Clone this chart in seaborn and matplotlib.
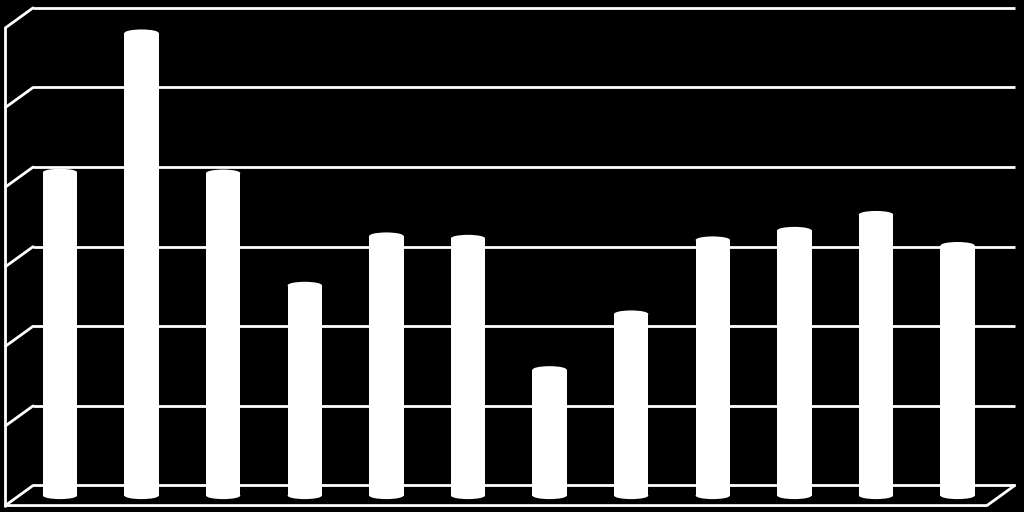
import matplotlib
matplotlib.use('Agg')
import matplotlib.pyplot as plt
from matplotlib.patches import Ellipse
import seaborn as sns

# data (gridline step = 10)
categories = ['1', '2', '3', '4', '5', '6', '7', '8', '9', '10', '11', '12']
values = [40.6, 58.1, 40.5, 26.4, 32.6, 32.3, 15.8, 22.8, 32.1, 33.3, 35.3, 31.4]
gridlines = [0, 10, 20, 30, 40, 50, 60]

sns.set_style('dark')
fig = plt.figure(figsize=(10.24, 5.12), dpi=100, facecolor='black')
ax = fig.add_axes([0, 0, 1, 1])
ax.set_facecolor('black')

sns.barplot(x=categories, y=values, color='white', saturation=1, width=0.42,
            ax=ax, zorder=3, linewidth=0)

# pseudo-3D frame: back wall, left wall, floor
depth_x = 0.34
depth_y = 1.26
x_back_left = -0.33
x_back_right = 11.70
x_front_left = x_back_left - depth_x
x_front_right = x_back_right - depth_x

for g in gridlines:
    ax.plot([x_back_left, x_back_right], [g + depth_y, g + depth_y], color='white', lw=2, zorder=1,
            solid_capstyle='butt')
    ax.plot([x_front_left, x_back_left], [g - depth_y, g + depth_y], color='white', lw=2, zorder=1)

ax.plot([x_front_left, x_front_left], [gridlines[0] - depth_y, gridlines[-1] - depth_y],
        color='white', lw=2, zorder=1)
ax.plot([x_front_left, x_front_right, x_back_right],
        [gridlines[0] - depth_y, gridlines[0] - depth_y, gridlines[0] + depth_y],
        color='white', lw=2, zorder=4)

# cylinder caps
cap_h = 0.9
for p in list(ax.patches):
    cx = p.get_x() + p.get_width() / 2
    ax.add_patch(Ellipse((cx, p.get_height()), p.get_width(), cap_h, facecolor='white',
                         edgecolor='none', zorder=3))
    ax.add_patch(Ellipse((cx, 0), p.get_width(), cap_h, facecolor='white',
                         edgecolor='none', zorder=3))

ax.set_xlim(-0.735, 11.814)
ax.set_ylim(-2.07, 62.25)
ax.set_xticks([])
ax.set_yticks([])
ax.set_xlabel('')
ax.set_ylabel('')
ax.grid(False)
for s in ax.spines.values():
    s.set_visible(False)

fig.savefig('out.png', dpi=100, facecolor='black')
